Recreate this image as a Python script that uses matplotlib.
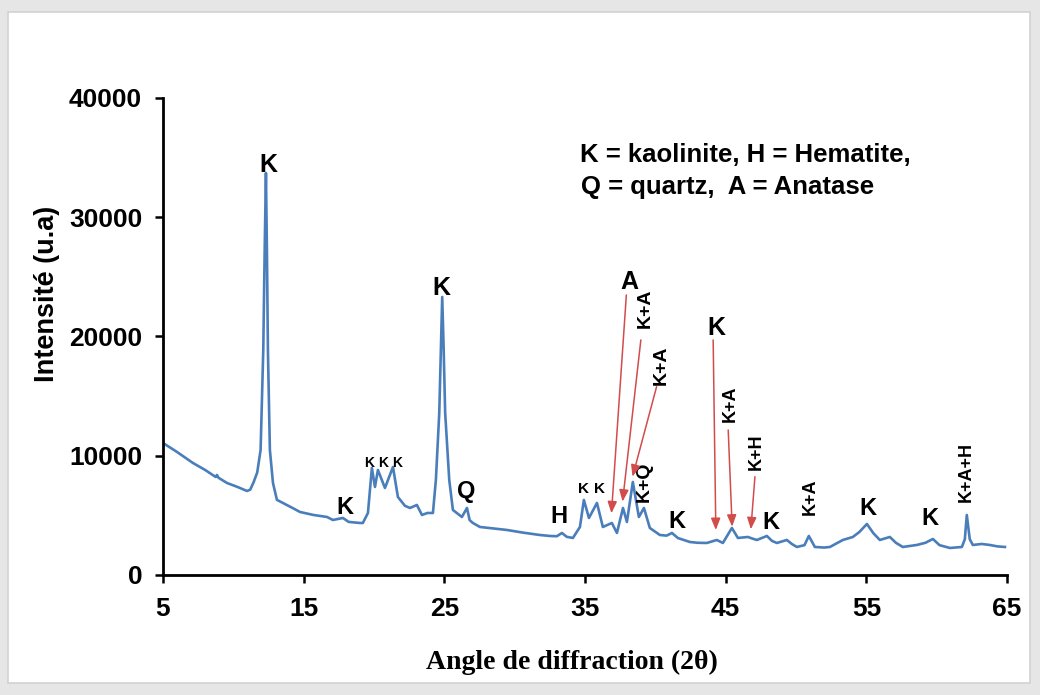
"""XRD pattern of the kaolin sample with phase labels."""
import matplotlib
matplotlib.use("Agg")
import matplotlib.pyplot as plt
from matplotlib.patches import Rectangle

# diffractogram (2theta in degrees, counts)
two_theta = [
    5.00, 6.00, 7.13, 8.00, 8.75, 8.84, 8.95, 9.55, 10.30, 10.97, 11.20, 11.45, 11.70,
    11.94, 12.13, 12.23, 12.32, 12.39, 12.46, 12.60, 12.82, 13.10, 14.24, 14.74, 15.70,
    16.66, 17.08, 17.79, 18.20, 19.00, 19.21, 19.57, 19.85, 20.07, 20.28, 20.78, 21.35,
    21.70, 22.20, 22.56, 23.05, 23.41, 23.80, 24.19, 24.40, 24.64, 24.76, 24.85, 24.95,
    25.06, 25.35, 25.61, 26.25, 26.61, 26.80, 27.03, 27.53, 28.50, 29.45, 30.60, 31.79,
    32.50, 33.00, 33.36, 33.70, 34.14, 34.64, 34.92, 35.28, 35.85, 36.27, 36.91, 37.27,
    37.70, 37.98, 38.40, 38.83, 39.19, 39.61, 40.32, 40.80, 41.18, 41.60, 42.45, 43.00,
    43.66, 44.37, 44.80, 45.44, 45.87, 46.58, 46.90, 47.22, 47.93, 48.30, 48.64, 49.35,
    49.70, 50.06, 50.60, 50.91, 51.34, 52.00, 52.41, 53.33, 54.04, 54.50, 55.04, 55.50,
    55.96, 56.67, 57.10, 57.59, 58.59, 59.20, 59.73, 60.20, 60.94, 61.79, 62.00, 62.14,
    62.35, 62.57, 63.20, 63.78, 64.30, 64.85,
]
intensity = [
    11070, 10315, 9392, 8805, 8218, 8386, 8150, 7715, 7380, 7044, 7150, 7800, 8600,
    10483, 18869, 27255, 33711, 27255, 18869, 10483, 7715, 6300, 5600, 5283, 5032,
    4864, 4612, 4780, 4450, 4361, 4361, 5200, 8973, 7380, 8805, 7296, 9057,
    6541, 5800, 5619, 5870, 5032, 5199, 5199, 7967, 13585, 19120, 23313, 19120,
    13585, 7967, 5451, 4864, 5619, 4600, 4361, 4025, 3900, 3774, 3550, 3354,
    3271, 3250, 3522, 3200, 3103, 4025, 6290, 4780, 6038, 4025, 4361, 3522,
    5619, 4445, 7799, 4864, 5619, 3941, 3354, 3300, 3522, 3100, 2767, 2700,
    2684, 2935, 2684, 3941, 3103, 3187, 3050, 2935, 3271, 2850, 2684, 2935,
    2600, 2348, 2500, 3271, 2348, 2300, 2348, 2935, 3187, 3600, 4277, 3500,
    2935, 3187, 2700, 2348, 2516, 2700, 3019, 2500, 2264, 2348, 3000, 5030,
    3000, 2516, 2600, 2516, 2400, 2348,
]

# phase labels: text, 2theta, intensity, size, rotation
labels = [
    ("K", 12.48, 34380, 18, 0), ("K", 17.94, 5700, 17, 0),
    ("K", 19.64, 9390, 10, 0), ("K", 20.66, 9390, 10, 0), ("K", 21.65, 9390, 10, 0),
    ("K", 24.81, 24070, 18, 0), ("Q", 26.58, 6960, 17, 0), ("H", 33.15, 4890, 17, 0),
    ("K", 34.92, 7190, 11, 0), ("K", 36.01, 7190, 11, 0),
    ("A", 38.14, 24550, 18, 0), ("K+A", 39.26, 22360, 14, 90), ("K+A", 40.44, 17610, 14, 90),
    ("K+Q", 39.19, 7820, 14, 90), ("K", 41.51, 4470, 17, 0), ("K", 44.35, 20690, 18, 0),
    ("K+A", 45.30, 14400, 13, 90), ("K+H", 47.20, 10340, 13, 90), ("K", 48.21, 4390, 17, 0),
    ("K+A", 50.98, 6570, 13, 90), ("K", 55.08, 5590, 17, 0), ("K", 59.51, 4750, 17, 0),
    ("K+A+H", 62.12, 8660, 13, 90),
]

# arrows: (start 2theta, start I) -> (end 2theta, end I)
arrows = [
    ((37.94, 23480), (36.88, 5170)),
    ((38.97, 19710), (37.67, 6150)),
    ((40.09, 15790), (38.38, 8240)),
    ((44.11, 19710), (44.30, 3770)),
    ((45.18, 12160), (45.46, 4050)),
    ((47.08, 8240), (46.79, 3830)),
]

x_ticks = [5, 15, 25, 35, 45, 55, 65]
y_ticks = [0, 10000, 20000, 30000, 40000]

fig = plt.figure(figsize=(10.4, 6.95), dpi=100, facecolor="#e6e6e6")
panel = Rectangle((0.0077, 0.0173), 0.9827, 0.9655, transform=fig.transFigure,
                  facecolor="white", edgecolor="#d2d2d2", linewidth=1.2, zorder=-10)
fig.add_artist(panel)
ax = fig.add_axes([0.1567, 0.1727, 0.8116, 0.6863])
ax.set_facecolor("none")

ax.plot(two_theta, intensity, color="#4a7ebb", linewidth=1.9)

sans = ["Liberation Sans", "DejaVu Sans"]
for text, x, y, size, rot in labels:
    ax.text(x, y, text, ha="center", va="center", fontsize=size, rotation=rot,
            fontweight="bold", family=sans)

for start, end in arrows:
    ax.annotate("", xy=end, xytext=start,
                arrowprops=dict(arrowstyle="-|>,head_length=0.7,head_width=0.28",
                                color="#d24c4c", lw=1.1, shrinkA=0, shrinkB=0))

ax.text(46.43, 35220, "K = kaolinite, H = Hematite,", ha="center", va="center",
        fontsize=18.5, fontweight="bold", family=sans)
ax.text(45.15, 32540, "Q = quartz,  A = Anatase", ha="center", va="center",
        fontsize=18.5, fontweight="bold", family=sans)

ax.set_xlim(5, 65)
ax.set_ylim(0, 40000)
ax.set_xticks(x_ticks)
ax.set_yticks(y_ticks)
ax.set_xticklabels([str(t) for t in x_ticks], fontsize=19, fontweight="bold",
                   family=["Liberation Sans Narrow", "Liberation Sans"])
ax.set_yticklabels([str(t) for t in y_ticks], fontsize=19, fontweight="bold", family=sans)
ax.tick_params(axis="x", direction="out", length=6, width=1.8, pad=10)
ax.tick_params(axis="y", direction="out", length=6, width=1.8, pad=9)
for side in ("top", "right"):
    ax.spines[side].set_visible(False)
for side in ("left", "bottom"):
    ax.spines[side].set_linewidth(2)

ax.set_xlabel("Angle de diffraction (2θ)", fontsize=20, fontweight="bold",
              family=["Liberation Serif", "DejaVu Serif"])
ax.xaxis.set_label_coords(0.485, -0.157)
ax.set_ylabel("Intensité (u.a)", fontsize=19.5, fontweight="bold", family=sans)
ax.yaxis.set_label_coords(-0.122, 0.589)

fig.savefig("out.png", dpi=100, facecolor=fig.get_facecolor())
